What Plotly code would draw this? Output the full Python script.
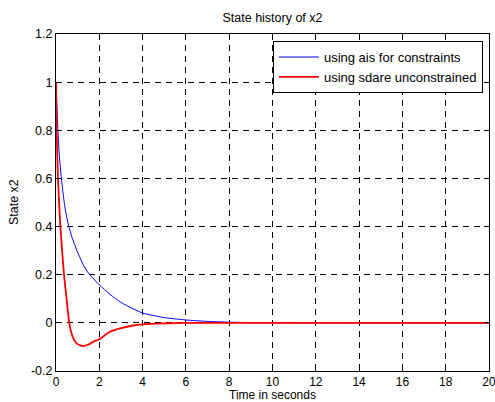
import plotly.graph_objects as go

# Data
t_ais = [0, 0.05, 0.09, 0.15, 0.25, 0.35, 0.46, 0.58, 0.75, 0.97, 1.2, 1.43,
         1.66, 2.0, 2.5, 3.0, 3.5, 4.0, 5.0, 6.0, 7.0, 8.0, 9.0, 20.0]
x2_ais = [1.0, 0.88, 0.8, 0.7, 0.6, 0.52, 0.455, 0.405, 0.352, 0.3, 0.252, 0.215,
          0.19, 0.158, 0.118, 0.085, 0.061, 0.041, 0.022, 0.012, 0.006, 0.003, 0.001, 0.0]

t_sdare = [0, 0.03, 0.09, 0.2, 0.37, 0.5, 0.61, 0.77, 0.95, 1.23, 1.5, 1.73,
           2.0, 2.49, 2.96, 3.5, 4.0, 5.0, 6.0, 8.0, 20.0]
x2_sdare = [1.0, 0.8, 0.6, 0.4, 0.2, 0.09, 0.0, -0.058, -0.085, -0.097, -0.09, -0.078,
            -0.068, -0.037, -0.023, -0.012, -0.006, -0.002, 0.0, 0.0, 0.0]

x_ticks = [0, 2, 4, 6, 8, 10, 12, 14, 16, 18, 20]
y_ticks = [-0.2, 0, 0.2, 0.4, 0.6, 0.8, 1, 1.2]
y_tick_labels = ["-0.2", "0", "0.2", "0.4", "0.6", "0.8", "1", "1.2"]

FONT = "Liberation Sans, Arial, sans-serif"
FS = 12

fig = go.Figure()
fig.add_trace(go.Scatter(x=t_ais, y=x2_ais, mode="lines",
                         name="using ais for constraints",
                         line=dict(color="#0000ff", width=1, shape="spline", smoothing=0.6)))
fig.add_trace(go.Scatter(x=t_sdare, y=x2_sdare, mode="lines",
                         name="using sdare unconstrained",
                         line=dict(color="#ff0000", width=1.8, shape="spline", smoothing=0.5)))

axis_common = dict(
    showline=True, linecolor="black", linewidth=1, mirror="ticks",
    ticks="inside", ticklen=5, tickcolor="black", tickwidth=1,
    showgrid=True, gridcolor="black", gridwidth=1, griddash="6px,5px",
    zeroline=False, automargin=False, ticklabeloverflow="allow",
    tickfont=dict(family=FONT, size=12.5, color="black"),
)

fig.update_xaxes(range=[0, 20], tickvals=x_ticks, **axis_common)
fig.update_xaxes(tickfont=dict(size=12))
fig.update_yaxes(range=[-0.2, 1.2], tickvals=y_ticks, ticktext=y_tick_labels, **axis_common)

fig.update_layout(
    width=495, height=402,
    margin=dict(l=56, r=6, t=34, b=31, autoexpand=False),
    paper_bgcolor="white", plot_bgcolor="white",
    font=dict(family=FONT, size=FS, color="black"),
    title=dict(text="State history of x2", x=0.5, xref="paper",
               y=(402 - 18) / 402, yref="container", yanchor="middle",
               font=dict(family=FONT, size=12.5, color="black")),
    legend=dict(x=0.501, y=0.979, xanchor="left", yanchor="top",
                bgcolor="white", bordercolor="black", borderwidth=1,
                itemwidth=40,
                font=dict(family=FONT, size=13, color="black")),
    showlegend=True,
    annotations=[
        dict(text="Time in seconds", x=0.5, y=-0.0727, xref="paper", yref="paper",
             xanchor="center", yanchor="middle", showarrow=False,
             font=dict(family=FONT, size=12, color="black")),
        dict(text="State x2", x=-0.098, y=0.5, xref="paper", yref="paper",
             xanchor="center", yanchor="middle", showarrow=False, textangle=-90,
             font=dict(family=FONT, size=12.5, color="black")),
    ],
)

fig.write_html("out.html",
               config={"displayModeBar": False},
               post_script="document.body.style.margin='0px';document.body.style.overflow='hidden';")
